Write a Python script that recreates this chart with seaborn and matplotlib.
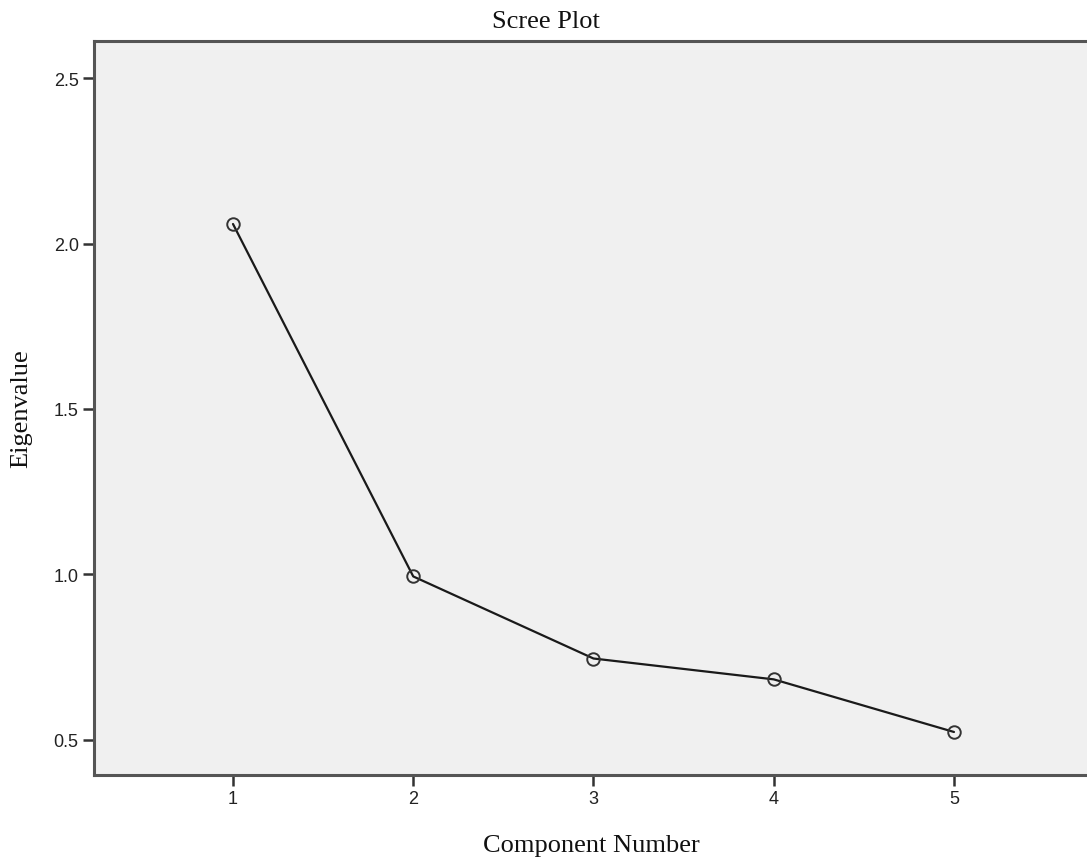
import matplotlib
matplotlib.use("Agg")
import matplotlib.pyplot as plt
import seaborn as sns
import pandas as pd

components = [1, 2, 3, 4, 5]
eigenvalues = [2.059, 0.994, 0.746, 0.683, 0.524]
x_ticks = [1, 2, 3, 4, 5]
y_ticks = [0.5, 1.0, 1.5, 2.0, 2.5]
y_tick_labels = ["0.5", "1.0", "1.5", "2.0", "2.5"]

df = pd.DataFrame({"Component Number": components, "Eigenvalue": eigenvalues})

sns.set_theme(style="white")
plt.rcParams['font.family'] = ['Liberation Sans', 'DejaVu Sans']

W, H = 1087, 862
fig = plt.figure(figsize=(W / 100, H / 100), dpi=100)
ax = fig.add_axes([94 / W, 1 - 776 / H, 1 - 94 / W, (776 - 42) / H])
ax.set_facecolor("#f0f0f0")

sns.lineplot(data=df, x="Component Number", y="Eigenvalue", ax=ax,
             color="#1a1a1a", linewidth=1.6, marker="o", markersize=9,
             markerfacecolor="none", markeredgecolor="#333333", markeredgewidth=1.4)

ax.set_xlim(0.2288, 5.738)
ax.set_ylim(0.394, 2.612)
ax.set_xticks(x_ticks)
ax.set_xticklabels([str(v) for v in x_ticks])
ax.set_yticks(y_ticks)
ax.set_yticklabels(y_tick_labels)

for s in ["left", "top", "bottom"]:
    ax.spines[s].set_color("#555555")
    ax.spines[s].set_linewidth(2.2)
ax.spines["right"].set_visible(False)

ax.tick_params(axis="both", which="major", direction="out", length=8, width=1.8,
               color="#333333", labelsize=13, labelcolor="#222222", pad=3,
               bottom=True, left=True)

ax.set_xlabel("")
ax.set_ylabel("")

serif = ['Liberation Serif', 'DejaVu Serif']
fs = 19
fig.text(546 / W, 1 - 28 / H, "Scree Plot", family=serif, fontsize=fs,
         color="#111111", ha="center", va="baseline")
fig.text(591 / W, 1 - 852 / H, "Component Number", family=serif, fontsize=fs,
         color="#111111", ha="center", va="baseline")
fig.text(10 / W, 1 - 409 / H, "Eigenvalue", family=serif, fontsize=fs,
         color="#111111", ha="left", va="center", rotation=90)

fig.savefig("out.png", dpi=100)
